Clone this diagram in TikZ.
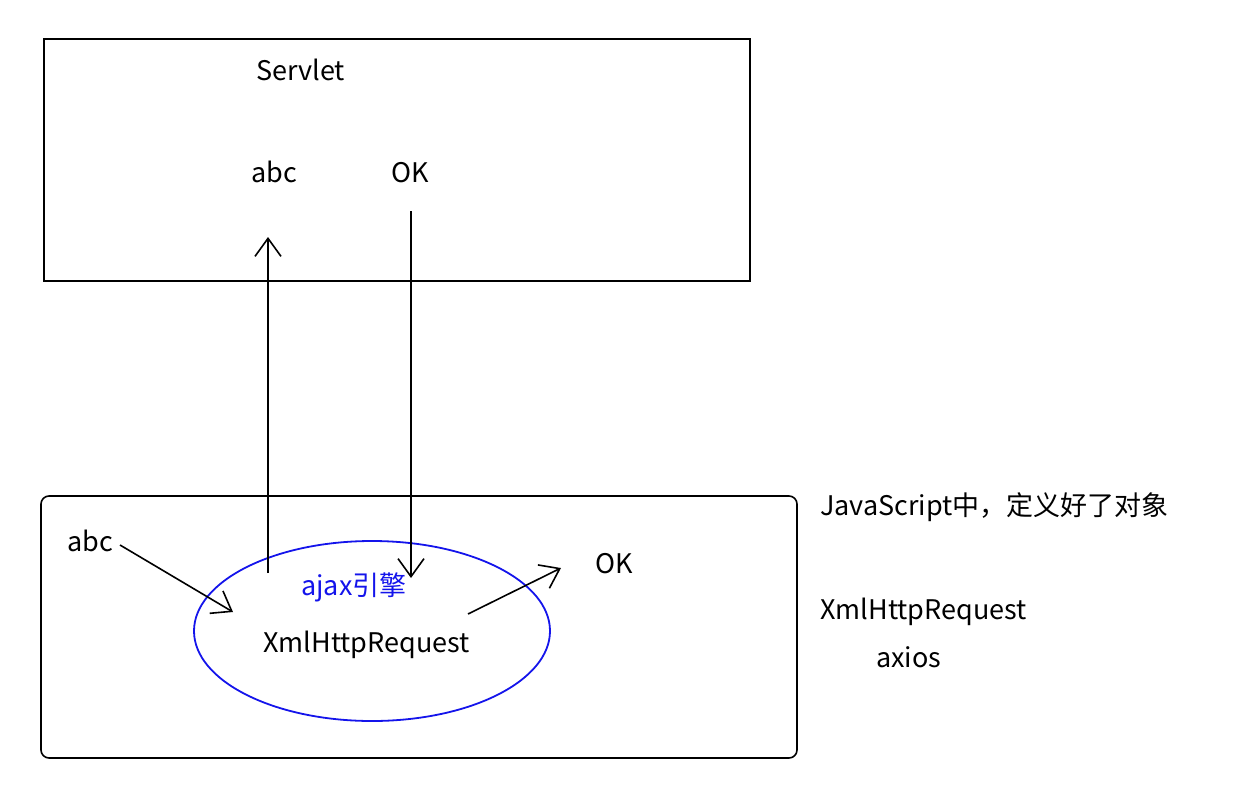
\documentclass[tikz,border=0pt]{standalone}
\usepackage{fontspec}
\setmainfont{Noto Sans CJK SC}
\usetikzlibrary{arrows.meta,shapes.geometric}
\tikzset{
	txt/.style={inner sep=0pt, anchor=base west, font=\fontsize{27}{32}\selectfont},
	hand/.style={line width=1.6pt, -{Straight Barb[length=18pt, width=26pt, line width=1.6pt]}},
}
\definecolor{ajaxblue}{RGB}{20,20,235}

\begin{document}
\begin{tikzpicture}[x=1pt, y=-1pt]
		%%%%% START %%%%%
		\useasboundingbox (0, 0) rectangle (1236, 784);
		
		\draw[line width=2pt] (44, 39) rectangle (750, 281);
		\node[txt] (servlet) at (256, 81) {Servlet};
		\node[txt] (srvabc) at (251, 182) {abc};
		\node[txt] (srvok) at (391, 182) {OK};
		
		\draw[line width=1.6pt, rounded corners=8pt] (41, 496) rectangle (797, 758);
		\node[draw=ajaxblue, line width=1.8pt, ellipse, minimum width=356pt, minimum height=180pt] (engine) at (372, 631) {};
		\node[txt, text=ajaxblue] (ajax) at (301, 595) {ajax引擎};
		\node[txt] (xhr) at (263, 652) {XmlHttpRequest};
		\node[txt] (pageabc) at (67, 551) {abc};
		\node[txt] (pageok) at (595, 573) {OK};
		
		\coordinate (upfrom) at (268, 573);
		\coordinate (upto) at (268, 237);
		\coordinate (downfrom) at (411, 211);
		\coordinate (downto) at (411, 578);
		\coordinate (infrom) at (120, 545);
		\coordinate (into) at (233, 612);
		\coordinate (outfrom) at (468, 614);
		\coordinate (outto) at (561, 568);
		
		\draw[hand] (upfrom) -- (upto);
		\draw[hand] (downfrom) -- (downto);
		\draw[hand] (infrom) -- (into);
		\draw[hand] (outfrom) -- (outto);
		
		\node[txt] (jsobj) at (820, 515) {JavaScript中，定义好了对象};
		\node[txt] (jsxhr) at (820, 619) {XmlHttpRequest};
		\node[txt] (axios) at (876, 667) {axios};
		
		%%%%% END %%%%%
	\end{tikzpicture}
\end{document}
